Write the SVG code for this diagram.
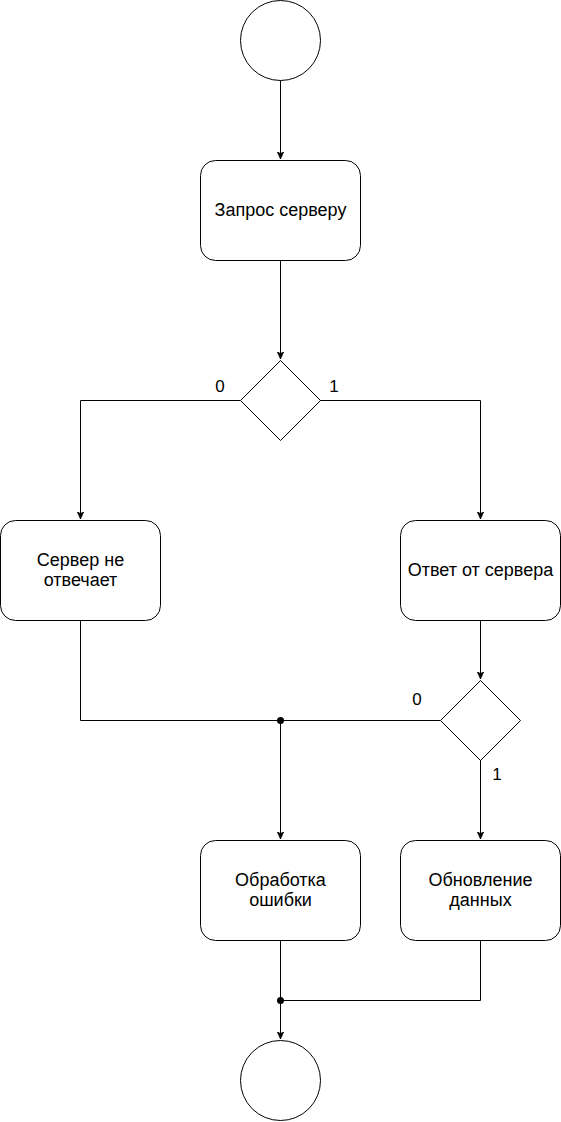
<svg xmlns="http://www.w3.org/2000/svg" width="561" height="1122" viewBox="0 0 561 1122">
<style>
.s{fill:#fff;stroke:#000;stroke-width:1}
.t{font-family:"Liberation Sans",Arial,sans-serif;font-size:18px;fill:#000;text-anchor:middle}
.l{font-family:"Liberation Sans",Arial,sans-serif;font-size:17px;fill:#000;text-anchor:middle}
.c{fill:none;stroke:#000;stroke-width:1}
</style>
<defs>
<marker id="a" viewBox="0 0 10 10" refX="9" refY="5" markerWidth="8" markerHeight="8" markerUnits="userSpaceOnUse" orient="auto">
<path d="M0,1 L9,5 L0,9 L2.5,5 Z" fill="#000" stroke="#000" stroke-width="1"/>
</marker>
</defs>
<rect width="561" height="1122" fill="#fff"/>
<g id="connectors">
<path class="c" d="M280.5,80 V159" marker-end="url(#a)"/>
<path class="c" d="M280.5,260 V359" marker-end="url(#a)"/>
<path class="c" d="M240,400.5 H80.5 V519" marker-end="url(#a)"/>
<path class="c" d="M320,400.5 H480.5 V519" marker-end="url(#a)"/>
<path class="c" d="M480.5,620 V679" marker-end="url(#a)"/>
<path class="c" d="M80.5,620 V720.5 H440"/>
<path class="c" d="M280.5,720.5 V839" marker-end="url(#a)"/>
<path class="c" d="M480.5,760 V839" marker-end="url(#a)"/>
<path class="c" d="M280.5,940 V1039" marker-end="url(#a)"/>
<path class="c" d="M480.5,940 V1000.5 H280.5"/>
<circle cx="280.5" cy="720.5" r="3.5" fill="#000"/>
<circle cx="280.5" cy="1000.5" r="3.5" fill="#000"/>
<text class="l" x="220" y="392">0</text>
<text class="l" x="334" y="392">1</text>
<text class="l" x="417" y="705">0</text>
<text class="l" x="497" y="780">1</text>
</g>
<g id="start"><circle class="s" cx="280.5" cy="40.5" r="40"/></g>
<g id="request"><rect class="s" x="200.5" y="160.5" width="160" height="100" rx="15"/><text class="t" x="280.5" y="216">Запрос серверу</text></g>
<g id="dec1"><path class="s" d="M280.5,360.5 L320.5,400.5 L280.5,440.5 L240.5,400.5 Z"/></g>
<g id="noresp"><rect class="s" x="0.5" y="520.5" width="160" height="100" rx="15"/><text class="t" x="80.5" y="566">Сервер не</text><text class="t" x="80.5" y="586">отвечает</text></g>
<g id="resp"><rect class="s" x="400.5" y="520.5" width="160" height="100" rx="15"/><text class="t" x="480.5" y="576">Ответ от сервера</text></g>
<g id="dec2"><path class="s" d="M480.5,680.5 L520.5,720.5 L480.5,760.5 L440.5,720.5 Z"/></g>
<g id="error"><rect class="s" x="200.5" y="840.5" width="160" height="100" rx="15"/><text class="t" x="280.5" y="886">Обработка</text><text class="t" x="280.5" y="906">ошибки</text></g>
<g id="update"><rect class="s" x="400.5" y="840.5" width="160" height="100" rx="15"/><text class="t" x="480.5" y="886">Обновление</text><text class="t" x="480.5" y="906">данных</text></g>
<g id="end"><circle class="s" cx="280.5" cy="1080.5" r="40"/></g>
</svg>
